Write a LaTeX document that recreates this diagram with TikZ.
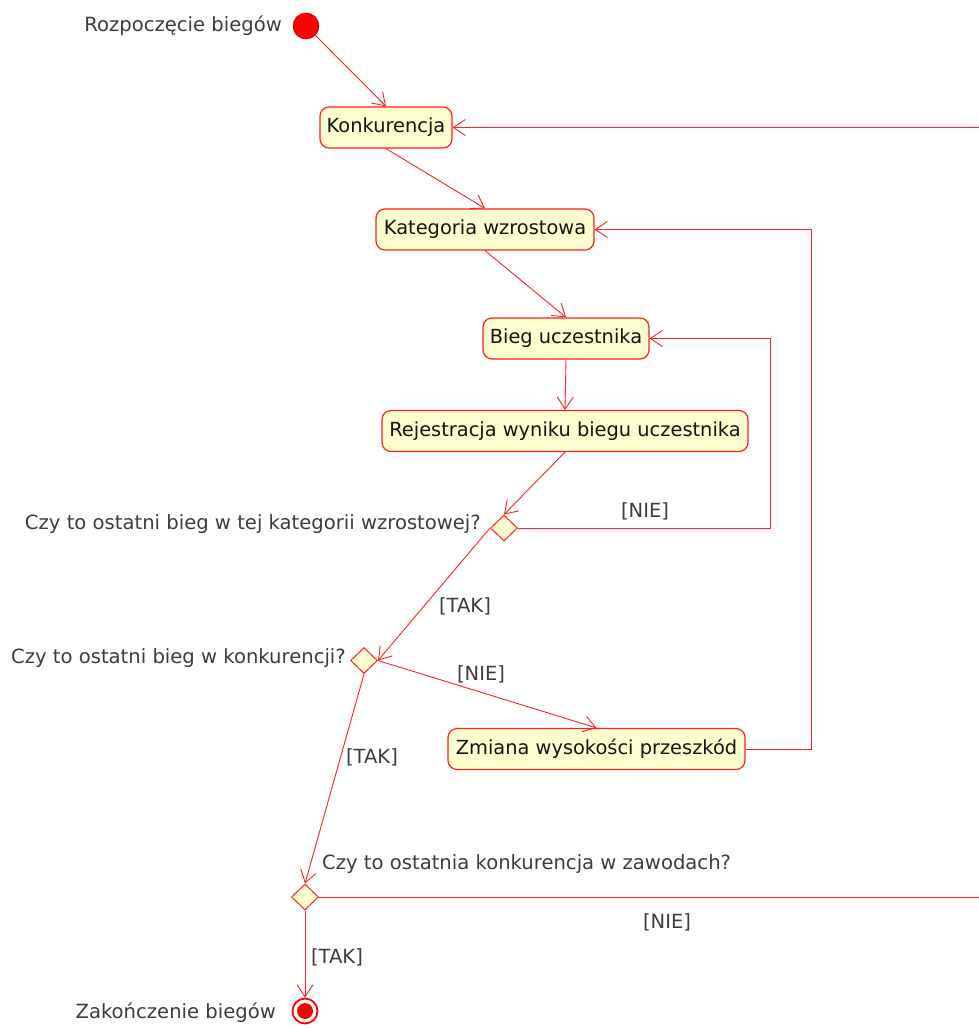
\documentclass[tikz,border=0pt]{standalone}
\usepackage{fontspec}
\setmainfont{DejaVu Sans}
\usetikzlibrary{arrows.meta,shapes.geometric}
\definecolor{actfill}{HTML}{FEFECE}
\definecolor{actline}{HTML}{FF2020}
\definecolor{lbl}{HTML}{3C3C3C}
\definecolor{txt}{HTML}{141414}
\tikzset{
  activity/.style={draw=actline, line width=1.2pt, fill=actfill, rounded corners=9pt,
    minimum height=41pt, inner sep=0pt, text=txt, font=\fontsize{19.4}{21}\selectfont},
  choice/.style={diamond, draw=actline, line width=1pt, fill=actfill, minimum width=27pt,
    minimum height=26pt, inner sep=0pt},
  flow/.style={draw=actline, line width=0.9pt,
    -{Straight Barb[length=12pt,width=16pt,line width=0.9pt]}},
  guard/.style={text=lbl, font=\fontsize{19.5}{21}\selectfont, inner sep=0pt},
  caption/.style={text=lbl, font=\fontsize{19.6}{21}\selectfont, inner sep=0pt},
}
\begin{document}
\begin{tikzpicture}[x=1pt,y=-1pt]
\useasboundingbox (0,0) rectangle (979,1028);

% start and end of the flow
\node[circle, fill=red, draw=red!80!black, line width=0.6pt, minimum size=26pt, inner sep=0pt] (start) at (306,26) {};
\node[caption, anchor=east] (startlbl) at (282,26) {Rozpoczęcie biegów};

\node[circle, draw=red, line width=1.8pt, fill=white, minimum size=25pt, inner sep=0pt] (stop) at (305,1011) {};
\node[circle, fill=red, minimum size=16pt, inner sep=0pt] (stopdot) at (stop) {};
\node[caption, anchor=east] (stoplbl) at (276,1013) {Zakończenie biegów};

% activities
\node[activity, minimum width=132pt] (konk) at (386,127.5) {Konkurencja};
\node[activity, minimum width=218pt] (kat) at (485,229.5) {Kategoria wzrostowa};
\node[activity, minimum width=166pt] (bieg) at (566,338.5) {Bieg uczestnika};
\node[activity, minimum width=366pt] (rej) at (565,431) {Rejestracja wyniku biegu uczestnika};
\node[activity, minimum width=297pt] (zmiana) at (596.5,749) {Zmiana wysokości przeszkód};

% decisions
\node[choice] (d1) at (504,528) {};
\node[choice] (d2) at (364,660.5) {};
\node[choice] (d3) at (305,897) {};
\node[caption, anchor=east] (q1) at (481,524) {Czy to ostatni bieg w tej kategorii wzrostowej?};
\node[caption, anchor=east] (q2) at (346,658) {Czy to ostatni bieg w konkurencji?};
\node[caption, anchor=west] (q3) at (322,864) {Czy to ostatnia konkurencja w zawodach?};

% loop corners and off-edge return
\coordinate (loopA) at (770,338.5);
\coordinate (loopB) at (811,229.5);
\coordinate (edgeOut) at (979,897);
\coordinate (edgeIn) at (979,127.5);

% main flow
\draw[flow] (start) -- (konk.north);
\draw[flow] (konk.south) -- (kat.north);
\draw[flow] (kat.south) -- (bieg.north);
\draw[flow] (bieg.south) -- (rej.north);
\draw[flow] (rej.south) -- (d1.north);
\draw[flow] (d1.east) -| (loopA) -- (bieg.east);
\draw[flow] (d1.west) -- (d2.east);
\draw[flow] (d2.east) -- (zmiana.north);
\draw[flow] (zmiana.east) -| (loopB) -- (kat.east);
\draw[flow] (d2.south) -- (d3.north);
\draw[flow] (d3.south) -- (stop.north);
\draw[draw=actline, line width=0.9pt] (d3.east) -- (edgeOut);
\draw[flow] (edgeIn) -- (konk.east);

% guards
\node[guard] (g1) at (645,511) {[NIE]};
\node[guard] (g2) at (465,606) {[TAK]};
\node[guard] (g3) at (481,674) {[NIE]};
\node[guard] (g4) at (372,757) {[TAK]};
\node[guard] (g5) at (667,922) {[NIE]};
\node[guard] (g6) at (337,957) {[TAK]};
\end{tikzpicture}
\end{document}
